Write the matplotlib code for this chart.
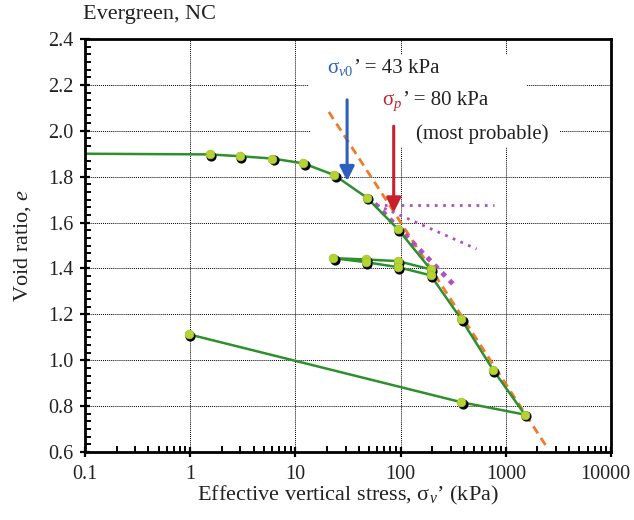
import matplotlib
matplotlib.use("Agg")
import matplotlib.pyplot as plt
import matplotlib.transforms as mtransforms
from matplotlib.patches import Rectangle
from matplotlib.ticker import FixedLocator, NullFormatter, LogLocator

plt.rcParams['font.family'] = ['Liberation Serif', 'DejaVu Serif']
plt.rcParams['mathtext.fontset'] = 'custom'
plt.rcParams['mathtext.rm'] = 'Liberation Serif'
plt.rcParams['mathtext.it'] = 'Liberation Serif:italic'

# Consolidation curve (stress kPa, void ratio)
stress = [0.1, 1.54, 2.97, 6.05, 11.9, 23.4, 47.6, 94, 193,
          94, 47, 23, 47, 94, 193, 378, 757, 1518, 378, 0.97]
void_ratio = [1.900, 1.897, 1.889, 1.879, 1.858, 1.807, 1.709, 1.572, 1.396,
              1.432, 1.439, 1.445, 1.427, 1.406, 1.370, 1.178, 0.958, 0.763, 0.817, 1.113]
has_marker = [False] + [True] * 19

# Compression line (orange dashed)
cc_x = [20.8, 2450]
cc_y = [2.082, 0.622]
# Casagrande construction lines (purple dotted)
horiz_x = [59, 774]
horiz_y = [1.677, 1.677]
bisect_x = [59, 528]
bisect_y = [1.677, 1.485]
tangent_x = [57, 341]
tangent_y = [1.682, 1.316]

sv0_x = 31
sv0_y = [2.135, 1.781]
sp_x = 86
sp_y = [2.02, 1.644]

BLUE = '#2e5fbf'
RED = '#c8202c'
TXT = '#222222'

fig = plt.figure(figsize=(6.34, 5.2), dpi=100)
ax = fig.add_axes([85/634, 1-452/520, (611-85)/634, (452-39)/520])
ax.set_xscale('log')
ax.set_xlim(0.1, 10000)
ax.set_ylim(0.6, 2.4)

ax.grid(True, which='major', color='black', linestyle=(0, (1, 1)), linewidth=0.7, zorder=0)
ax.set_axisbelow(True)

# white areas behind the annotation texts
ax.add_patch(Rectangle((13.5, 2.185), 1550 - 13.5, 0.145, facecolor='white',
                       edgecolor='none', zorder=1))
ax.add_patch(Rectangle((14, 1.93), 3300 - 14, 0.26, facecolor='white',
                       edgecolor='none', zorder=1))

ax.plot(cc_x, cc_y, color='#f07a28', linestyle=(0, (3, 2)), linewidth=2, zorder=2)
ax.plot(horiz_x, horiz_y, color='#b050c0', linestyle=(0, (1, 2)), linewidth=2, zorder=2)
ax.plot(bisect_x, bisect_y, color='#b050c0', linestyle=(0, (1, 2)), linewidth=2, zorder=2)
ax.plot(tangent_x, tangent_y, color='#b050c0', linestyle=(0, (1, 1.2)), linewidth=3.5, zorder=2)

ax.plot(stress, void_ratio, color='#2e8f2e', linewidth=1.8, zorder=3)
mx = [s for s, m in zip(stress, has_marker) if m]
my = [v for v, m in zip(void_ratio, has_marker) if m]
shadow = mtransforms.offset_copy(ax.transData, fig=fig, x=1.0, y=-1.3, units='points')
ax.plot(mx, my, 'o', color='black', markersize=6.3, transform=shadow, zorder=4)
ax.plot(mx, my, 'o', color='#b5d334', markersize=6.3, markeredgecolor='#a0c030',
        markeredgewidth=0.5, zorder=5)

ax.annotate('', xy=(sv0_x, sv0_y[1]), xytext=(sv0_x, sv0_y[0]),
            arrowprops=dict(arrowstyle='-|>', color=BLUE, lw=2.2, mutation_scale=22,
                            shrinkA=0, shrinkB=0), zorder=6)
ax.annotate('', xy=(sp_x, sp_y[1]), xytext=(sp_x, sp_y[0]),
            arrowprops=dict(arrowstyle='-|>', color=RED, lw=2.2, mutation_scale=22,
                            shrinkA=0, shrinkB=0), zorder=6)

FS = 15
renderer = fig.canvas.get_renderer()


def two_color_label(x, y, sym, rest, color):
    t1 = ax.text(x, y, sym, color=color, fontsize=FS, va='baseline', ha='left', zorder=8)
    w = t1.get_window_extent(renderer=renderer).width
    tr = mtransforms.offset_copy(ax.transData, fig=fig, x=w + 1, y=0, units='dots')
    ax.text(x, y, rest, transform=tr, color=TXT, fontsize=FS, va='baseline', ha='left',
            zorder=8)


two_color_label(19.9, 2.253, r"$\mathrm{\sigma}_{v0}$", "’ = 43 kPa", BLUE)
two_color_label(65.9, 2.112, r"$\mathrm{\sigma}_{p}$", "’ = 80 kPa", RED)
ax.text(141, 1.963, "(most probable)", color=TXT, fontsize=FS, va='baseline', ha='left',
        zorder=8)

ax.set_yticks([0.6, 0.8, 1.0, 1.2, 1.4, 1.6, 1.8, 2.0, 2.2, 2.4])
ax.set_yticklabels(['0.6', '0.8', '1.0', '1.2', '1.4', '1.6', '1.8', '2.0', '2.2', '2.4'])
ax.yaxis.set_minor_locator(FixedLocator([0.6 + 0.2 / 6 * i for i in range(55)]))
ax.set_xticks([0.1, 1, 10, 100, 1000, 10000])
ax.set_xticklabels(['0.1', '1', '10', '100', '1000', '10000'])
ax.xaxis.set_minor_locator(LogLocator(base=10, subs=range(2, 10)))
ax.xaxis.set_minor_formatter(NullFormatter())

ax.tick_params(which='major', direction='inout', length=7, width=1.6, labelsize=14.5,
               top=False, right=False, colors='black', labelcolor=TXT)
ax.tick_params(which='minor', direction='in', length=4, width=1.4, top=False, right=False)
ax.tick_params(axis='x', which='major', pad=6)
ax.tick_params(axis='y', which='major', pad=5)
for s in ax.spines.values():
    s.set_linewidth(2)
    s.set_zorder(10)

# keep the last x tick label inside the canvas
last = ax.get_xticklabels()[-1]
last.set_transform(last.get_transform() +
                   mtransforms.ScaledTranslation(-4/72, 0, fig.dpi_scale_trans))

ax.set_xlabel("Effective vertical stress, " + r"$\mathrm{\sigma}_{v}$" + "’ (kPa)", fontsize=16,
              color=TXT, labelpad=0)
ax.set_ylabel("Void ratio, " + r"$e$", fontsize=16, color=TXT, labelpad=11)
fig.text(83/634, 1-14/520, "Evergreen, NC", fontsize=16, color=TXT, va='center', ha='left')

fig.savefig('out.png', dpi=100)
